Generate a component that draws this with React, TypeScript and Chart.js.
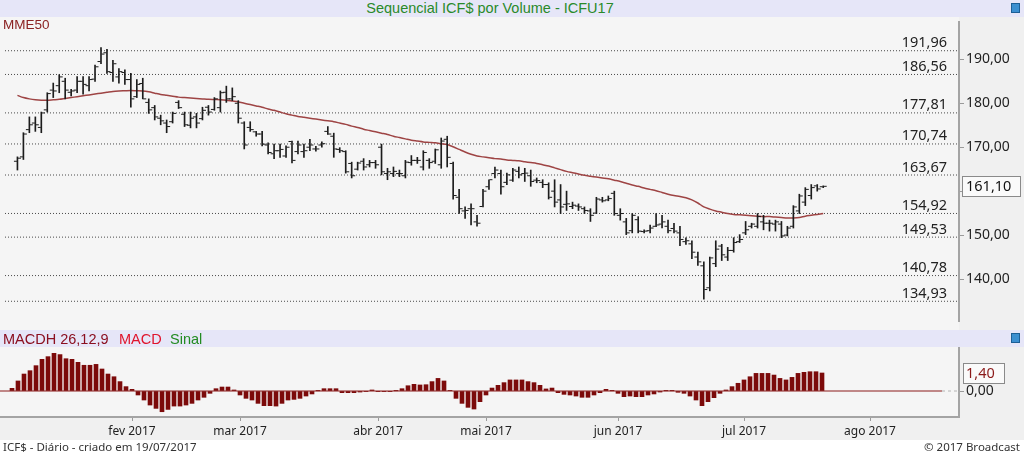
import React, { useEffect, useRef } from 'react';
import { Chart, registerables } from 'chart.js';
Chart.register(...registerables);

// ---- Data (trading-day index 0..135, 2 Jan 2017 .. 19 Jul 2017) ----
const monthLabels = ['fev 2017', 'mar 2017', 'abr 2017', 'mai 2017', 'jun 2017', 'jul 2017', 'ago 2017'];
const monthStartIdx = [20, 38, 61, 79, 101, 122, 143];

const opens = [
  166.8, 167.8, 174.0, 175.5, 174.5, 178.5, 183.0, 184.0, 185.0, 182.5,
  183.0, 185.0, 184.0, 185.5, 189.5, 191.5, 187.0, 186.0, 187.0, 185.4,
  181.5, 184.5, 180.2, 179.0, 176.6, 175.5, 175.8, 180.2, 177.5, 175.0,
  176.9, 176.5, 179.1, 178.6, 179.0, 182.5, 181.0, 180.0, 175.5, 174.5,
  173.5, 173.0, 170.5, 168.5, 169.2, 168.0, 171.3, 169.0, 169.0, 170.0,
  169.6, 170.5, 173.6, 172.5, 169.5, 169.0, 166.3, 165.0, 166.8, 166.0,
  166.5, 170.0, 164.0, 164.0, 164.0, 163.5, 166.5, 167.0, 165.5, 167.0,
  166.8, 166.0, 171.8, 166.3, 158.6, 155.5, 156.0, 153.0, 156.5, 161.0,
  164.0, 164.0, 162.0, 162.5, 164.5, 164.0, 163.5, 162.5, 162.0, 161.5,
  160.0, 158.0, 157.0, 156.5, 156.6, 156.0, 155.5, 155.0, 158.0, 158.0,
  159.5, 154.5, 153.0, 151.0, 153.5, 150.8, 151.0, 152.0, 152.5, 152.0,
  151.5, 150.5, 148.5, 148.0, 145.0, 143.0, 138.0, 143.5, 147.5, 145.0,
  146.5, 148.5, 150.5, 152.0, 152.0, 153.0, 152.7, 152.5, 152.5, 150.0,
  152.0, 155.5, 157.5, 159.0, 161.2, 161.0,
];
const highs = [
  167.8, 173.3, 176.9, 176.9, 178.0, 182.4, 184.6, 186.5, 185.7, 183.2,
  186.1, 186.1, 186.1, 188.7, 192.7, 192.3, 189.8, 187.9, 187.6, 186.8,
  185.4, 185.7, 181.0, 179.5, 177.3, 176.2, 178.0, 180.6, 178.0, 178.0,
  177.7, 179.1, 179.5, 181.3, 182.8, 183.9, 183.5, 180.6, 175.8, 175.8,
  173.6, 173.6, 171.0, 170.7, 170.7, 170.3, 171.4, 171.4, 170.7, 171.8,
  170.2, 171.2, 174.7, 173.2, 169.9, 169.2, 166.6, 166.6, 167.4, 167.0,
  167.0, 170.7, 165.2, 165.5, 164.8, 167.0, 168.1, 167.7, 169.2, 167.4,
  169.6, 172.1, 172.5, 166.6, 160.4, 156.4, 157.1, 154.5, 160.4, 162.6,
  165.5, 164.8, 164.1, 165.2, 165.5, 165.2, 164.8, 163.0, 162.6, 161.9,
  162.6, 161.5, 160.0, 157.5, 157.1, 156.4, 156.0, 158.6, 158.6, 158.9,
  160.0, 156.0, 153.8, 154.9, 154.2, 151.2, 152.3, 154.9, 154.5, 153.4,
  152.7, 152.0, 149.4, 148.7, 146.1, 143.9, 145.0, 148.7, 147.9, 147.2,
  149.4, 150.1, 153.1, 152.7, 154.9, 154.5, 153.4, 153.4, 153.1, 152.0,
  156.7, 159.3, 160.8, 161.5, 161.5, 161.2,
];
const lows = [
  164.8, 167.2, 173.3, 173.6, 173.3, 178.0, 181.3, 182.4, 181.0, 181.7,
  182.4, 182.1, 182.8, 185.0, 189.0, 186.8, 185.0, 184.6, 184.3, 179.1,
  181.3, 181.0, 177.7, 176.2, 175.1, 173.3, 175.5, 178.8, 174.7, 174.4,
  174.4, 176.2, 177.3, 178.4, 178.0, 180.2, 180.6, 175.5, 169.6, 173.6,
  172.5, 170.3, 168.5, 167.4, 167.7, 167.7, 166.4, 168.5, 167.7, 169.2,
  169.1, 170.0, 172.9, 167.7, 168.8, 164.1, 163.0, 164.8, 164.8, 165.5,
  165.2, 163.7, 162.6, 163.3, 163.3, 163.0, 165.9, 166.3, 164.8, 165.2,
  166.3, 165.2, 165.5, 158.2, 154.9, 153.8, 152.3, 152.0, 156.4, 160.4,
  163.0, 159.3, 161.5, 162.2, 163.0, 162.2, 161.1, 161.9, 160.8, 158.2,
  156.4, 154.9, 155.6, 156.0, 155.6, 154.9, 153.1, 154.9, 157.5, 157.8,
  154.5, 153.4, 150.1, 150.5, 150.5, 150.5, 150.5, 151.9, 151.6, 150.5,
  150.5, 147.6, 147.9, 144.6, 143.1, 135.4, 137.3, 142.8, 144.2, 144.2,
  146.1, 148.3, 150.1, 151.6, 151.6, 151.2, 150.9, 150.9, 149.4, 149.8,
  151.6, 154.9, 156.7, 158.2, 160.0, 160.8,
];
const closes = [
  167.5, 173.0, 175.1, 175.1, 177.8, 182.2, 182.8, 186.0, 183.0, 182.8,
  185.0, 184.3, 185.4, 188.3, 191.2, 187.2, 189.0, 187.2, 185.4, 181.0,
  184.3, 181.0, 178.5, 176.9, 176.0, 174.7, 177.7, 179.0, 175.1, 176.6,
  175.5, 178.4, 178.0, 181.0, 182.4, 181.0, 181.5, 176.6, 170.5, 174.0,
  173.0, 170.7, 168.8, 169.2, 169.5, 170.0, 167.0, 170.5, 169.2, 170.5,
  169.6, 170.8, 173.0, 169.6, 169.2, 164.4, 163.5, 166.4, 165.5, 166.5,
  166.0, 164.4, 164.4, 164.5, 164.0, 166.6, 167.0, 167.0, 168.8, 166.5,
  169.4, 171.4, 167.7, 159.0, 156.0, 155.6, 156.0, 152.7, 160.0, 162.6,
  164.8, 161.0, 163.7, 164.8, 163.7, 164.1, 162.2, 162.4, 161.5, 158.6,
  157.5, 156.4, 157.1, 156.8, 156.4, 155.6, 154.5, 158.2, 157.8, 158.3,
  154.9, 154.9, 150.5, 154.5, 150.9, 150.9, 151.6, 152.3, 153.0, 151.0,
  150.9, 149.0, 148.7, 146.1, 143.9, 137.6, 144.8, 146.8, 145.5, 146.5,
  148.3, 149.0, 151.2, 152.5, 154.2, 152.7, 152.7, 153.0, 149.8, 151.6,
  156.4, 158.9, 160.4, 160.8, 160.5, 161.1,
];
const mme50 = [
  181.8, 181.3, 181.0, 180.8, 180.7, 180.7, 180.8, 180.9, 181.1, 181.3,
  181.5, 181.7, 181.9, 182.1, 182.3, 182.5, 182.7, 182.8, 182.85, 182.9,
  182.85, 182.8, 182.6, 182.3, 182.0, 181.8, 181.6, 181.4, 181.3, 181.2,
  181.1, 181.0, 180.9, 180.85, 180.8, 180.7, 180.5, 180.3, 180.0, 179.7,
  179.4, 179.1, 178.7, 178.4, 178.0, 177.6, 177.3, 177.0, 176.8, 176.6,
  176.4, 176.2, 176.0, 175.8, 175.5, 175.2, 174.8, 174.5, 174.1, 173.8,
  173.5, 173.2, 172.9, 172.5, 172.2, 171.9, 171.6, 171.4, 171.2, 171.1,
  171.0, 170.8, 170.6, 170.1, 169.5, 168.9, 168.4, 168.0, 167.8, 167.6,
  167.4, 167.3, 167.1, 167.0, 166.9, 166.7, 166.5, 166.3, 166.0, 165.7,
  165.3, 164.9, 164.5, 164.2, 163.9, 163.6, 163.4, 163.2, 163.0, 162.8,
  162.5, 162.2, 161.8, 161.4, 161.1, 160.7, 160.4, 160.1, 159.7, 159.3,
  159.0, 158.8, 158.5, 158.0, 157.3, 156.4, 155.9, 155.5, 155.2, 154.9,
  154.7, 154.6, 154.5, 154.4, 154.3, 154.2, 154.2, 154.1, 154.0, 153.9,
  153.9, 154.0, 154.3, 154.5, 154.7, 154.9,
];
const macdh = [
  0.21, 0.78, 1.32, 1.58, 1.97, 2.46, 2.67, 2.93, 2.83, 2.51,
  2.46, 2.23, 2.0, 2.0, 2.07, 1.71, 1.32, 1.11, 0.73, 0.34,
  0.13, -0.31, -0.7, -1.09, -1.35, -1.61, -1.43, -1.17, -1.17, -1.09,
  -0.96, -0.7, -0.49, -0.18, 0.18, 0.31, 0.31, 0.08, -0.31, -0.57,
  -0.7, -0.96, -1.14, -1.14, -1.17, -0.96, -0.7, -0.65, -0.57, -0.39,
  -0.23, 0.02, 0.18, 0.18, 0.18, -0.13, -0.13, -0.13, -0.08, -0.03,
  0.08, -0.05, -0.05, -0.05, 0.02, 0.18, 0.41, 0.52, 0.47, 0.49,
  0.73, 0.98, 0.78, 0.03, -0.57, -0.96, -1.27, -1.4, -0.83, -0.31,
  0.23, 0.44, 0.65, 0.86, 0.86, 0.86, 0.73, 0.65, 0.44, 0.16,
  0.23, -0.13, -0.26, -0.31, -0.39, -0.49, -0.49, -0.31, -0.13, 0.13,
  0.02, -0.18, -0.44, -0.39, -0.44, -0.44, -0.31, -0.23, -0.08, 0.02,
  0.02, -0.1, -0.18, -0.39, -0.7, -1.14, -0.83, -0.52, -0.18, 0.08,
  0.34, 0.6, 0.86, 1.11, 1.37, 1.37, 1.37, 1.24, 0.98, 0.86,
  1.06, 1.37, 1.45, 1.5, 1.5, 1.4,
];
const levels = [191.96, 186.56, 177.81, 170.74, 163.67, 154.92, 149.53, 140.78, 134.93];
const priceTicks = [140, 150, 160, 170, 180, 190];
const macdTicks = [0];

// ---- Scale ranges ----
const X_MIN = -2.0833;
const X_MAX = 157.75;
const XM_MIN = -2.0;
const XM_MAX = 157.833;
const ZERO_END = 155;
const Y_MIN = 130.44;
const Y_MAX = 198.5;
const M_MIN = -2.02;
const M_MAX = 3.42;

const fmt = (v: number) => Number(v).toFixed(2).replace('.', ',');
const INK = '#1c1c1c';

const noPad = (s: any) => {
  s.paddingTop = 0;
  s.paddingBottom = 0;
  s.paddingLeft = 0;
  s.paddingRight = 0;
};

const levelLabelsPlugin = {
  id: 'levelLabels',
  afterDatasetsDraw(chart: any) {
    const { ctx, chartArea, scales } = chart;
    const y = scales.y;
    ctx.save();
    ctx.font = '14.5px "Noto Sans"';
    ctx.fillStyle = '#222';
    ctx.textAlign = 'right';
    ctx.textBaseline = 'alphabetic';
    levels.forEach((l) => ctx.fillText(fmt(l), chartArea.right - 12, y.getPixelForValue(l) - 3.5));
    ctx.restore();
  },
  afterDraw(chart: any) {
    const { ctx, chartArea, scales } = chart;
    const last = closes[closes.length - 1];
    const py = Math.round(scales.y.getPixelForValue(last));
    ctx.save();
    ctx.fillStyle = '#fafafa';
    ctx.fillRect(chartArea.right + 3.5, py - 9.5, 58, 20);
    ctx.strokeStyle = '#8a8a8a';
    ctx.lineWidth = 1;
    ctx.strokeRect(chartArea.right + 3.5, py - 9.5, 58, 20);
    ctx.font = '14.5px "Noto Sans"';
    ctx.fillStyle = '#111';
    ctx.textAlign = 'left';
    ctx.textBaseline = 'middle';
    ctx.fillText(fmt(last), chartArea.right + 7, py + 1);
    ctx.restore();
  },
};

const macdBoxPlugin = {
  id: 'macdBox',
  afterDraw(chart: any) {
    const { ctx, chartArea, scales } = chart;
    const last = macdh[macdh.length - 1];
    const py = Math.round(scales.y.getPixelForValue(last));
    ctx.save();
    ctx.fillStyle = '#fafafa';
    ctx.fillRect(chartArea.right + 4.5, py - 9.5, 41, 20);
    ctx.strokeStyle = '#8a8a8a';
    ctx.lineWidth = 1;
    ctx.strokeRect(chartArea.right + 4.5, py - 9.5, 41, 20);
    ctx.font = '14.5px "Noto Sans"';
    ctx.fillStyle = '#8b1a1a';
    ctx.textAlign = 'left';
    ctx.textBaseline = 'middle';
    ctx.fillText(fmt(last), chartArea.right + 7, py + 1);
    ctx.restore();
  },
};

function mainConfig(): any {
  const levelSets = levels.map((l) => ({
    type: 'line',
    data: [{ x: X_MIN, y: l }, { x: X_MAX, y: l }],
    borderColor: '#4a4a4a',
    borderWidth: 1,
    borderDash: [1, 2],
    pointRadius: 0,
    order: 10,
  }));
  return {
    type: 'bar',
    data: {
      datasets: [
        ...levelSets,
        {
          type: 'line',
          data: mme50.map((v, i) => ({ x: i, y: v })),
          borderColor: '#9e4444',
          borderWidth: 1.5,
          pointRadius: 0,
          tension: 0.3,
          order: 5,
        },
        {
          type: 'bar',
          data: highs.map((h, i) => ({ x: i, y: [lows[i], h] })),
          backgroundColor: INK,
          borderWidth: 0,
          barThickness: 1,
          grouped: false,
          order: 2,
        },
        {
          type: 'scatter',
          data: opens.map((o, i) => ({ x: i - 1 / 3, y: o })),
          pointStyle: 'line',
          pointRadius: 1.5,
          pointBorderWidth: 1,
          pointBorderColor: INK,
          order: 1,
        },
        {
          type: 'scatter',
          data: closes.map((c, i) => ({ x: i + 1 / 3, y: c })),
          pointStyle: 'line',
          pointRadius: 1.5,
          pointBorderWidth: 1,
          pointBorderColor: INK,
          order: 1,
        },
      ],
    },
    options: {
      responsive: false,
      animation: false,
      events: [],
      layout: { padding: 0 },
      plugins: { legend: { display: false }, tooltip: { enabled: false }, title: { display: false } },
      scales: {
        x: { type: 'linear', display: false, min: X_MIN, max: X_MAX, offset: false, grid: { offset: false } },
        y: {
          type: 'linear',
          position: 'right',
          min: Y_MIN,
          max: Y_MAX,
          beginAtZero: false,
          afterFit: (s: any) => { s.width = 65; noPad(s); },
          afterBuildTicks: (s: any) => { s.ticks = priceTicks.map((v) => ({ value: v })); },
          ticks: {
            autoSkip: false,
            callback: (v: any) => fmt(v),
            color: '#222',
            font: { family: '"Noto Sans"', size: 14 },
            padding: 2,
          },
          grid: { drawOnChartArea: false, drawTicks: true, tickLength: 5, color: '#9a9a9a' },
          border: { color: '#a4a4a4', width: 2 },
        },
      },
    },
    plugins: [levelLabelsPlugin],
  };
}

function macdConfig(): any {
  return {
    type: 'bar',
    data: {
      datasets: [
        {
          type: 'line',
          data: [{ x: XM_MIN, y: 0 }, { x: ZERO_END, y: 0 }],
          borderColor: '#8b1a1a',
          borderWidth: 1,
          pointRadius: 0,
          order: 3,
        },
        {
          type: 'line',
          data: [{ x: ZERO_END, y: 0 }, { x: XM_MAX, y: 0 }],
          borderColor: '#b4b4b4',
          borderWidth: 1,
          borderDash: [3, 3],
          pointRadius: 0,
          order: 3,
        },
        {
          type: 'bar',
          data: macdh.map((v, i) => ({ x: i, y: v })),
          backgroundColor: '#7c0a0a',
          borderWidth: 0,
          barThickness: 4,
          grouped: false,
          order: 1,
        },
      ],
    },
    options: {
      responsive: false,
      animation: false,
      events: [],
      layout: { padding: 0 },
      plugins: { legend: { display: false }, tooltip: { enabled: false }, title: { display: false } },
      scales: {
        x: {
          type: 'linear',
          min: XM_MIN,
          max: XM_MAX,
          offset: false,
          afterFit: (s: any) => { s.height = 23; noPad(s); },
          afterBuildTicks: (s: any) => { s.ticks = monthStartIdx.map((v) => ({ value: v })); },
          ticks: {
            autoSkip: false,
            maxRotation: 0,
            callback: (_v: any, i: number) => monthLabels[i],
            color: '#222',
            font: { family: '"Noto Sans"', size: 12 },
            padding: 3,
          },
          grid: { drawOnChartArea: false, drawTicks: true, tickLength: 4, color: '#9a9a9a', offset: false },
          border: { color: '#a4a4a4', width: 2 },
        },
        y: {
          type: 'linear',
          position: 'right',
          min: M_MIN,
          max: M_MAX,
          beginAtZero: false,
          afterFit: (s: any) => { s.width = 65; noPad(s); },
          afterBuildTicks: (s: any) => { s.ticks = macdTicks.map((v) => ({ value: v })); },
          ticks: {
            autoSkip: false,
            callback: (v: any) => fmt(v),
            color: '#222',
            font: { family: '"Noto Sans"', size: 14 },
            padding: 2,
          },
          grid: { drawOnChartArea: false, drawTicks: true, tickLength: 5, color: '#9a9a9a' },
          border: { color: '#a4a4a4', width: 2 },
        },
      },
    },
    plugins: [macdBoxPlugin],
  };
}

const abs = (l: number, t: number, w: number, h: number, extra: any = {}): React.CSSProperties => ({
  position: 'absolute', left: l, top: t, width: w, height: h, ...extra,
});

export default function App() {
  const mainRef = useRef<HTMLCanvasElement>(null);
  const macdRef = useRef<HTMLCanvasElement>(null);

  useEffect(() => {
    document.body.style.margin = '0';
    const c1 = new Chart(mainRef.current as HTMLCanvasElement, mainConfig());
    const c2 = new Chart(macdRef.current as HTMLCanvasElement, macdConfig());
    return () => { c1.destroy(); c2.destroy(); };
  }, []);

  const arial = '"Liberation Sans", Arial, sans-serif';
  const noto = '"Noto Sans", sans-serif';

  return (
    <div style={{ position: 'fixed', left: 0, top: 0, width: 1024, height: 454, background: '#f0f0f0', overflow: 'hidden' }}>
      {/* backgrounds */}
      <div style={abs(0, 17, 959, 313, { background: '#f5f5f5' })} />
      <div style={abs(0, 347, 959, 70, { background: '#f5f5f5' })} />
      <div style={abs(0, 0, 1024, 17, { background: '#e6e6f8' })} />
      <div style={abs(0, 330, 1024, 17, { background: '#e6e6f8' })} />
      <div style={abs(0, 440, 1024, 14, { background: '#ffffff' })} />

      {/* title */}
      <div style={abs(0, 0, 980, 17, { textAlign: 'center', color: '#2a8a2a', font: `14.5px ${arial}`, lineHeight: '17px', whiteSpace: 'nowrap' })}>
        Sequencial ICF$ por Volume - ICFU17
      </div>
      <div style={abs(1011, 3, 9, 10, { background: '#3b8fd0', border: '1px solid #1d5f96', boxSizing: 'border-box' })} />
      <div style={abs(1011, 333, 9, 10, { background: '#3b8fd0', border: '1px solid #1d5f96', boxSizing: 'border-box' })} />

      {/* canvases */}
      <canvas ref={mainRef} width={1024} height={309} style={{ position: 'absolute', left: 0, top: 17, width: 1024, height: 309 }} />
      <canvas ref={macdRef} width={1024} height={93} style={{ position: 'absolute', left: 0, top: 347, width: 1024, height: 93 }} />

      {/* labels */}
      <div style={abs(3, 17, 80, 16, { color: '#8b2323', font: `13.5px ${arial}`, lineHeight: '16px', whiteSpace: 'nowrap' })}>MME50</div>
      <div style={abs(3, 331, 120, 17, { color: '#8b1020', font: `14.5px ${arial}`, lineHeight: '17px', whiteSpace: 'nowrap' })}>MACDH 26,12,9</div>
      <div style={abs(119, 331, 50, 17, { color: '#e0142c', font: `14.5px ${arial}`, lineHeight: '17px', whiteSpace: 'nowrap' })}>MACD</div>
      <div style={abs(170, 331, 50, 17, { color: '#228b22', font: `14.5px ${arial}`, lineHeight: '17px', whiteSpace: 'nowrap' })}>Sinal</div>

      {/* footer */}
      <div style={abs(3, 440, 400, 14, { color: '#333', font: `11.5px ${noto}`, lineHeight: '14px', whiteSpace: 'nowrap' })}>
        ICF$ - Diário - criado em 19/07/2017
      </div>
      <div style={abs(820, 440, 200, 14, { color: '#333', font: `11.5px ${noto}`, lineHeight: '14px', whiteSpace: 'nowrap', textAlign: 'right' })}>
        © 2017 Broadcast
      </div>
    </div>
  );
}
